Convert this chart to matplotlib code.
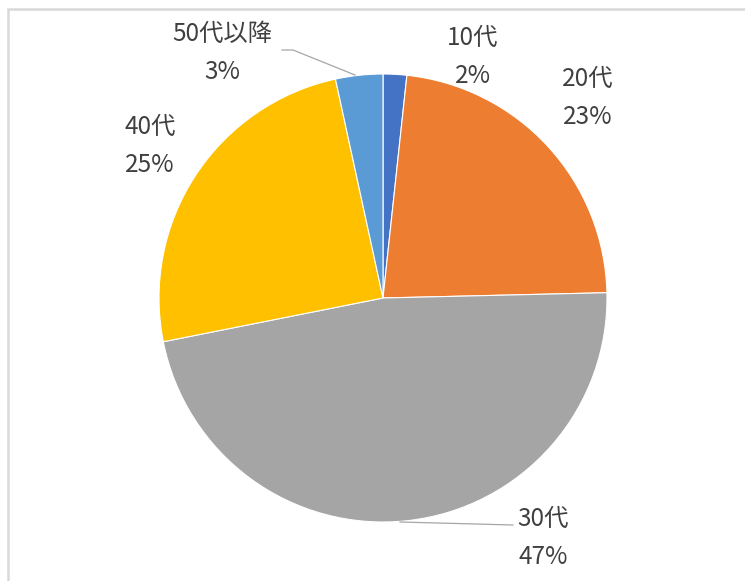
import numpy as np
import matplotlib.pyplot as plt
from matplotlib.patches import Rectangle

plt.rcParams['font.family'] = ['Noto Sans CJK JP', 'DejaVu Sans']

# data
labels = ['10代', '20代', '30代', '40代', '50代以降']
values = [1.7, 22.9, 47.2, 24.7, 3.4]
colors = ['#4472C4', '#ED7D31', '#A5A5A5', '#FFC000', '#5B9BD5']

W, H = 745, 581
cx, cy, R = 383, 298, 224

fig = plt.figure(figsize=(W / 100, H / 100), dpi=100)
ax = fig.add_axes([0, 0, 1, 1])

ax.pie(values, colors=colors, startangle=90, counterclock=False, radius=1,
       wedgeprops=dict(edgecolor='white', linewidth=0.8))

# pie() resets limits, so set them afterwards
ax.set_aspect('auto')
ax.set_xlim(-cx / R, (W - cx) / R)
ax.set_ylim(-(H - cy) / R, cy / R)
ax.axis('off')


def px(x, y):
    return (x - cx) / R, (cy - y) / R


# label positions in pixels (name line centre)
label_pos = [(473, 38), (588, 79), (543, 519), (150, 127), (222, 34)]
total = sum(values)
for lab, v, (x, y) in zip(labels, values, label_pos):
    pct = '{:.0f}%'.format(round(v / total * 100))
    ax.text(*px(x, y), lab, ha='center', va='center', fontsize=17.5, color='#404040')
    ax.text(*px(x, y + 38), pct, ha='center', va='center', fontsize=17.5, color='#404040')

# leader lines
l1 = np.array([px(282, 50), px(293, 50), px(355, 75)])
ax.plot(l1[:, 0], l1[:, 1], color='#a6a6a6', lw=0.9)
l2 = np.array([px(400, 522), px(513, 525)])
ax.plot(l2[:, 0], l2[:, 1], color='#a6a6a6', lw=0.9)

# chart frame (only left and top edges visible)
fig.patches.append(Rectangle((8 / W, -0.1), 1.2, (H - 9) / H + 0.1,
                             transform=fig.transFigure, fill=False,
                             edgecolor='#d9d9d9', lw=1.8))

fig.savefig('out.png', dpi=100)
